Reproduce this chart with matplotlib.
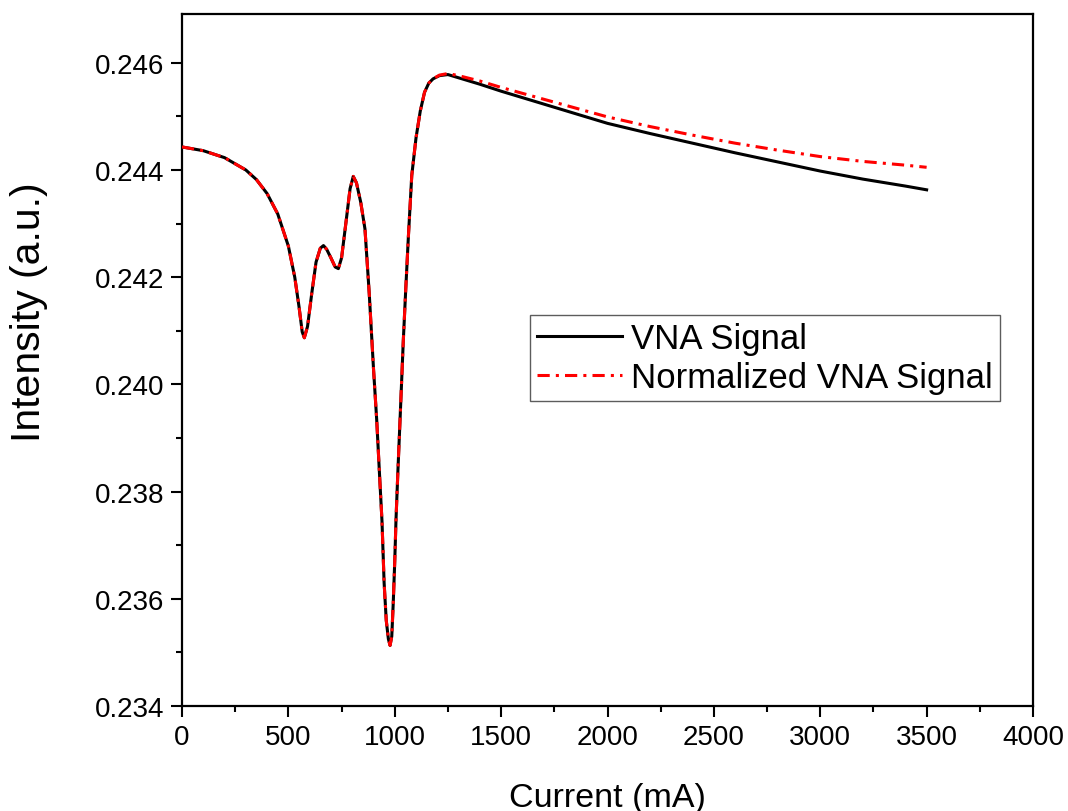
import matplotlib
matplotlib.use("Agg")
import matplotlib.pyplot as plt
from matplotlib.ticker import MultipleLocator, FormatStrFormatter

plt.rcParams['font.family'] = ['Liberation Sans', 'DejaVu Sans']

# Current sweep (mA)
current = [0, 100, 200, 300, 350, 400, 450, 500, 530, 550, 565, 575, 590, 610,
           630, 650, 665, 680, 700, 720, 735, 750, 770, 790, 805, 820, 840, 860,
           880, 900, 915, 930, 940, 950, 960, 970, 978, 986, 993, 1000, 1006,
           1015, 1025, 1040, 1052, 1064, 1080, 1100, 1120, 1140, 1160, 1180,
           1210, 1250, 1300, 1400, 1500, 1600, 1700, 1800, 1900, 2000, 2200,
           2400, 2600, 2800, 3000, 3200, 3400, 3500]

# Raw VNA signal intensity (a.u.)
vna_signal = [0.24443, 0.24436, 0.24423, 0.24400, 0.24382, 0.24356, 0.24318,
              0.24258, 0.24200, 0.24145, 0.24098, 0.24087, 0.24108, 0.24170,
              0.24228, 0.24254, 0.24259, 0.24252, 0.24236, 0.24219, 0.24216,
              0.24236, 0.24300, 0.24365, 0.24388, 0.24376, 0.24340, 0.24290,
              0.24170, 0.24030, 0.23935, 0.23820, 0.23745, 0.23630, 0.23560,
              0.23525, 0.23513, 0.23530, 0.23593, 0.23670, 0.23749, 0.23840,
              0.23935, 0.24080, 0.24180, 0.24275, 0.24390, 0.24460, 0.24510,
              0.24545, 0.24562, 0.24570, 0.24576, 0.24578, 0.24572, 0.24560,
              0.24547, 0.24535, 0.24523, 0.24511, 0.24499, 0.24487, 0.24468,
              0.24450, 0.24432, 0.24415, 0.24398, 0.24383, 0.24370, 0.24363]

# Normalized VNA signal intensity (a.u.)
normalized_signal = [0.24443, 0.24436, 0.24423, 0.24400, 0.24382, 0.24356,
                     0.24318, 0.24258, 0.24200, 0.24145, 0.24098, 0.24087,
                     0.24108, 0.24170, 0.24228, 0.24254, 0.24259, 0.24252,
                     0.24236, 0.24219, 0.24216, 0.24236, 0.24300, 0.24365,
                     0.24388, 0.24376, 0.24340, 0.24290, 0.24170, 0.24030,
                     0.23935, 0.23820, 0.23745, 0.23630, 0.23560, 0.23525,
                     0.23513, 0.23530, 0.23593, 0.23670, 0.23749, 0.23840,
                     0.23935, 0.24080, 0.24180, 0.24275, 0.24390, 0.24460,
                     0.24510, 0.24545, 0.24562, 0.24570, 0.24577, 0.24580,
                     0.24576, 0.24566, 0.24554, 0.24543, 0.24532, 0.24521,
                     0.24510, 0.24499, 0.24481, 0.24465, 0.24450, 0.24437,
                     0.24425, 0.24416, 0.24409, 0.24405]

fig = plt.figure(figsize=(10.68, 8.12), dpi=100)
ax = fig.add_axes([182 / 1068, 1 - 707 / 812, 851 / 1068, 692 / 812])

ax.plot(current, vna_signal, color='black', lw=2.2, label='VNA Signal', zorder=2)
ax.plot(current, normalized_signal, color='red', lw=2.2,
        dashes=(4, 2, 1, 2), label='Normalized VNA Signal', zorder=3)

ax.set_xlim(0, 4000)
ax.set_ylim(0.234, 0.24691)
ax.xaxis.set_major_locator(MultipleLocator(500))
ax.xaxis.set_minor_locator(MultipleLocator(250))
ax.yaxis.set_major_locator(MultipleLocator(0.002))
ax.yaxis.set_minor_locator(MultipleLocator(0.001))
ax.yaxis.set_major_formatter(FormatStrFormatter('%.3f'))

for s in ax.spines.values():
    s.set_linewidth(1.6)
ax.tick_params(which='major', direction='out', length=8, width=1.5,
               labelsize=20, top=False, right=False, pad=5)
ax.tick_params(which='minor', direction='out', length=4.5, width=1.5,
               top=False, right=False)

ax.set_xlabel('Current (mA)', fontsize=24.5, labelpad=23)
ax.set_ylabel('Intensity (a.u.)', fontsize=29.5)
ax.yaxis.set_label_coords(-0.158, 0.571)

leg = ax.legend(loc='upper left', bbox_to_anchor=(0.409, 0.565), fontsize=25,
                frameon=True, fancybox=False, edgecolor='#333333',
                handlelength=2.45, handletextpad=0.26, labelspacing=0.18,
                borderpad=0.2, borderaxespad=0)
leg.get_frame().set_linewidth(1.0)

fig.savefig('out.png', dpi=100, facecolor='white')
